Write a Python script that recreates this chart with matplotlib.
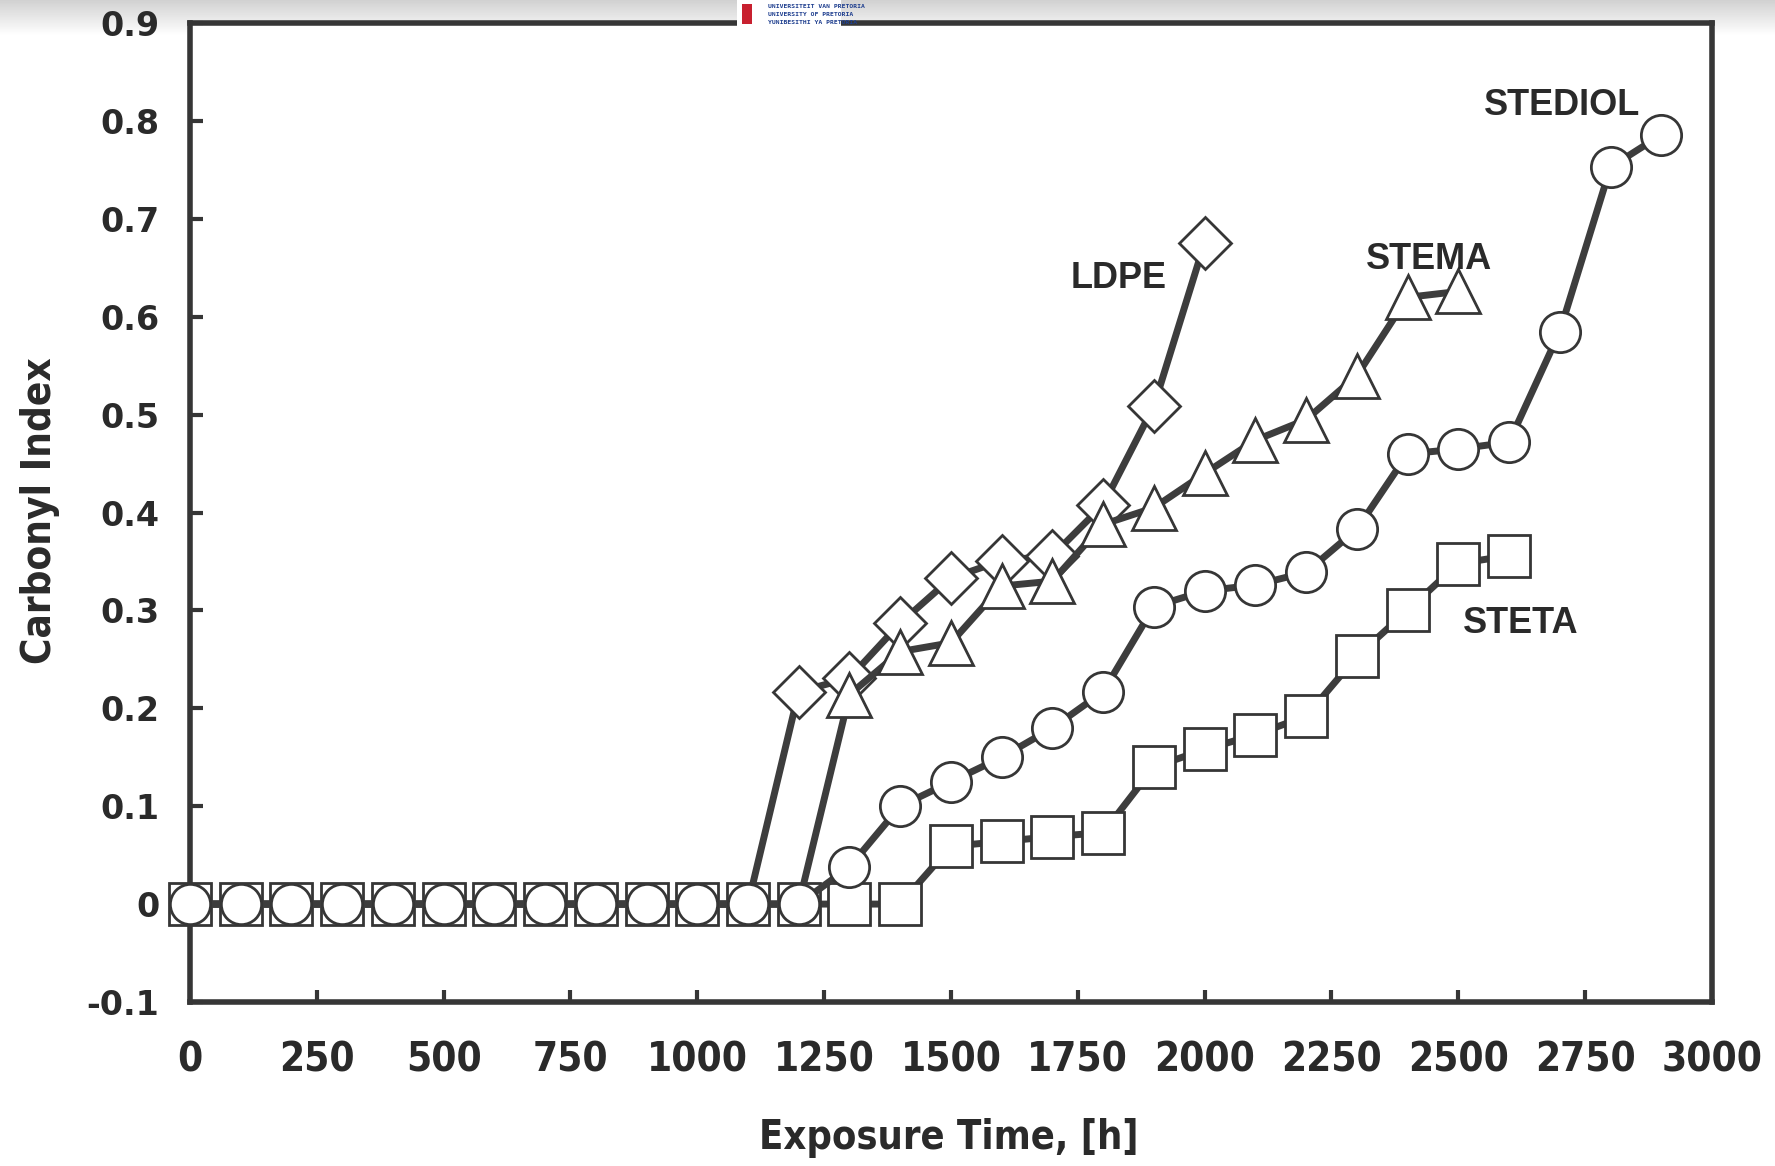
import numpy as np
import matplotlib
matplotlib.use("Agg")
import matplotlib.pyplot as plt
from matplotlib.patches import Rectangle

plt.rcParams['axes.unicode_minus'] = False

# Exposure time (h), sampled every 100 h
hours_steta = [0, 100, 200, 300, 400, 500, 600, 700, 800, 900, 1000, 1100, 1200, 1300, 1400,
               1500, 1600, 1700, 1800, 1900, 2000, 2100, 2200, 2300, 2400, 2500, 2600]
ci_steta = [0, 0, 0, 0, 0, 0, 0, 0, 0, 0, 0, 0, 0, 0, 0,
            0.059, 0.064, 0.069, 0.073, 0.140, 0.158, 0.173, 0.192, 0.253, 0.300, 0.348, 0.356]

hours_ldpe = [0, 100, 200, 300, 400, 500, 600, 700, 800, 900, 1000, 1100,
              1200, 1300, 1400, 1500, 1600, 1700, 1800, 1900, 2000]
ci_ldpe = [0, 0, 0, 0, 0, 0, 0, 0, 0, 0, 0, 0,
           0.217, 0.231, 0.287, 0.333, 0.351, 0.356, 0.408, 0.509, 0.676]

hours_stema = [0, 100, 200, 300, 400, 500, 600, 700, 800, 900, 1000, 1100, 1200,
               1300, 1400, 1500, 1600, 1700, 1800, 1900, 2000, 2100, 2200, 2300, 2400, 2500]
ci_stema = [0, 0, 0, 0, 0, 0, 0, 0, 0, 0, 0, 0, 0,
            0.214, 0.258, 0.267, 0.325, 0.330, 0.388, 0.405, 0.440, 0.474, 0.495, 0.540, 0.620, 0.626]

hours_stediol = [0, 100, 200, 300, 400, 500, 600, 700, 800, 900, 1000, 1100, 1200,
                 1300, 1400, 1500, 1600, 1700, 1800, 1900, 2000, 2100, 2200, 2300, 2400,
                 2500, 2600, 2700, 2800, 2900]
ci_stediol = [0, 0, 0, 0, 0, 0, 0, 0, 0, 0, 0, 0, 0,
              0.038, 0.100, 0.125, 0.150, 0.180, 0.217, 0.304, 0.320, 0.326, 0.339, 0.383, 0.460,
              0.465, 0.472, 0.585, 0.753, 0.786]

x_ticks = [0, 250, 500, 750, 1000, 1250, 1500, 1750, 2000, 2250, 2500, 2750, 3000]
y_ticks = [-0.1, 0, 0.1, 0.2, 0.3, 0.4, 0.5, 0.6, 0.7, 0.8, 0.9]
y_tick_labels = ['-0.1', '0', '0.1', '0.2', '0.3', '0.4', '0.5', '0.6', '0.7', '0.8', '0.9']

series_labels = ['LDPE', 'STEMA', 'STEDIOL', 'STETA']
label_pos = [(1830, 0.639), (2442, 0.659), (2705, 0.816), (2623, 0.287)]

INK = '#363636'
LINE = '#3d3d3d'
NARROW = dict(family='DejaVu Sans', stretch='condensed', weight='bold')

fig = plt.figure(figsize=(17.75, 11.66), dpi=100)
fig.patch.set_facecolor('white')

# faint grey shading along the top edge of the sheet
grad = np.linspace(0.82, 1.0, 36).reshape(-1, 1)
bg = fig.add_axes([0, 1 - 36 / 1166, 1, 36 / 1166], zorder=-5)
bg.imshow(grad, aspect='auto', cmap='gray', vmin=0, vmax=1, extent=[0, 1, 0, 1])
bg.axis('off')

ax = fig.add_axes([0.107, 0.1407, 0.8575, 0.8393])
ax.set_xlim(0, 3000)
ax.set_ylim(-0.1, 0.9)
ax.set_facecolor('white')


def nonzero_marks(vals):
    return [i for i, v in enumerate(vals) if v > 0]


line_kw = dict(color=LINE, lw=5, mfc='white', mec=INK, mew=2.0, clip_on=False)

ax.plot(hours_steta, ci_steta, marker='s', ms=30, zorder=3, **line_kw)
ax.plot(hours_ldpe, ci_ldpe, marker='D', ms=26, zorder=4,
        markevery=nonzero_marks(ci_ldpe), **line_kw)
ax.plot(hours_stema, ci_stema, marker='^', ms=31, zorder=5,
        markevery=nonzero_marks(ci_stema), **line_kw)
ax.plot(hours_stediol, ci_stediol, marker='o', ms=29, zorder=6, **line_kw)

for txt, (lx, ly) in zip(series_labels, label_pos):
    ax.text(lx, ly, txt, ha='center', va='center', fontsize=26, fontweight='bold',
            family='Liberation Sans', color='#2a2a2a', zorder=8)

for side in ['left', 'bottom', 'top', 'right']:
    ax.spines[side].set_linewidth(4)
    ax.spines[side].set_color(INK)

ax.set_xticks(x_ticks)
ax.set_xticklabels([str(t) for t in x_ticks])
ax.set_yticks(y_ticks)
ax.set_yticklabels(y_tick_labels)
ax.tick_params(axis='both', direction='in', length=9, width=3, color=INK)
ax.tick_params(axis='x', pad=28)
ax.tick_params(axis='y', pad=22)

for lab in ax.get_xticklabels():
    lab.set_family(NARROW['family'])
    lab.set_fontstretch(NARROW['stretch'])
    lab.set_fontweight('bold')
    lab.set_fontsize(29)
    lab.set_color('#2a2a2a')
for lab in ax.get_yticklabels():
    lab.set_family('DejaVu Sans')
    lab.set_fontweight('bold')
    lab.set_fontsize(24)
    lab.set_color('#2a2a2a')

fig.text(949 / 1775, 1 - 1138 / 1166, 'Exposure Time, [h]', ha='center', va='center',
         fontsize=28.5, color='#2a2a2a', **NARROW)
fig.text(40 / 1775, 1 - 511 / 1166, 'Carbonyl Index', ha='center', va='center',
         rotation=90, fontsize=29, color='#2a2a2a', **NARROW)

# university header
fig.patches.append(Rectangle((737 / 1775, 1 - 27 / 1166), 104 / 1775, 27 / 1166,
                             transform=fig.transFigure, facecolor='white',
                             edgecolor='none', zorder=10))
fig.patches.append(Rectangle((742 / 1775, 1 - 24 / 1166), 10 / 1775, 20 / 1166,
                             transform=fig.transFigure, facecolor='#c8202f',
                             edgecolor='none', zorder=11))
for i, line in enumerate(['UNIVERSITEIT VAN PRETORIA', 'UNIVERSITY OF PRETORIA',
                          'YUNIBESITHI YA PRETORIA']):
    fig.text(768 / 1775, 1 - (7 + i * 7.5) / 1166, line, ha='left', va='center',
             fontsize=4.6, fontweight='bold', family='DejaVu Sans Mono',
             color='#1f3f8f', zorder=12)

fig.savefig('out.png', dpi=100, facecolor='white')
